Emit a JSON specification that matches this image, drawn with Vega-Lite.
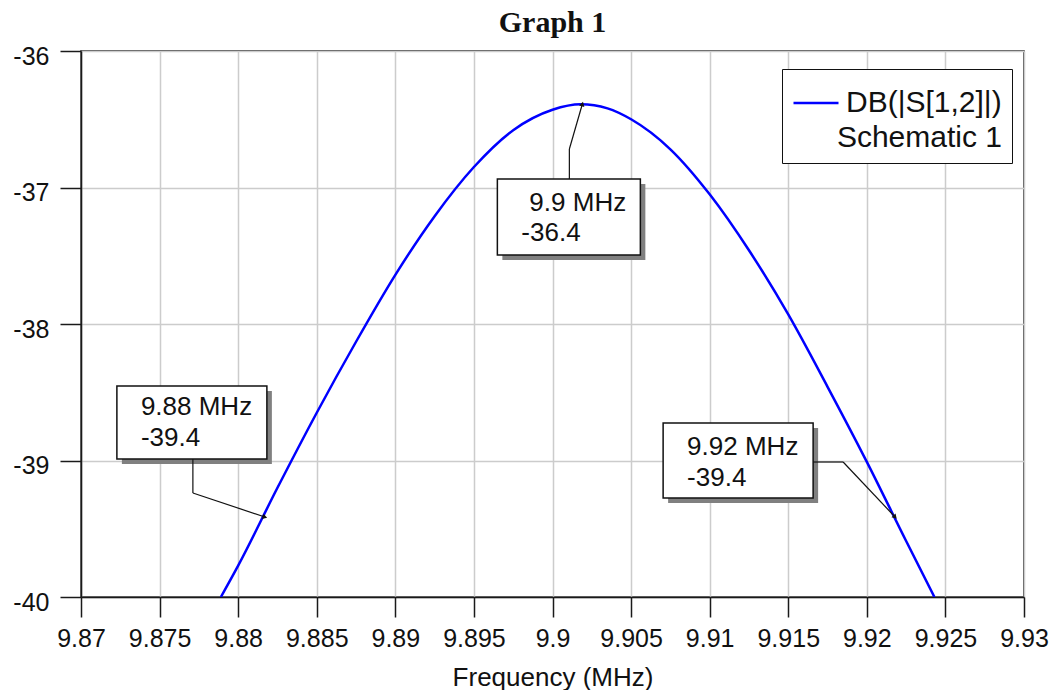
{
  "$schema": "https://vega.github.io/schema/vega-lite/v6.json",
  "width": 943,
  "height": 546,
  "autosize": {"type": "none"},
  "padding": {"left": 81, "top": 51, "right": 28, "bottom": 93},
  "background": "white",
  "title": {
    "text": "Graph 1",
    "font": "Liberation Serif",
    "fontSize": 30,
    "fontWeight": "bold",
    "color": "#111",
    "offset": 6
  },
  "datasets": {
    "curve": [
      {"freq": 9.8789, "db": -40.00},
      {"freq": 9.8800, "db": -39.77},
      {"freq": 9.8825, "db": -39.20},
      {"freq": 9.8850, "db": -38.65},
      {"freq": 9.8875, "db": -38.13},
      {"freq": 9.8900, "db": -37.64},
      {"freq": 9.8925, "db": -37.21},
      {"freq": 9.8950, "db": -36.85},
      {"freq": 9.8975, "db": -36.58},
      {"freq": 9.9000, "db": -36.43},
      {"freq": 9.9018, "db": -36.39},
      {"freq": 9.9035, "db": -36.42},
      {"freq": 9.9050, "db": -36.50},
      {"freq": 9.9075, "db": -36.72},
      {"freq": 9.9100, "db": -37.05},
      {"freq": 9.9125, "db": -37.46},
      {"freq": 9.9150, "db": -37.93},
      {"freq": 9.9175, "db": -38.46},
      {"freq": 9.9200, "db": -39.01},
      {"freq": 9.9225, "db": -39.59},
      {"freq": 9.9243, "db": -40.00}
    ],
    "markers": [
      {"id": "m1", "freq": 9.8817, "db": -39.414, "mhz": "9.88 MHz", "val": "-39.4"},
      {"id": "m2", "freq": 9.9019, "db": -36.388, "mhz": "9.9 MHz", "val": "-36.4"},
      {"id": "m3", "freq": 9.9218, "db": -39.414, "mhz": "9.92 MHz", "val": "-39.4"}
    ]
  },
  "config": {
    "font": "Liberation Sans",
    "view": {"stroke": "#1a1a1a", "strokeWidth": 1.5},
    "axis": {
      "labelFont": "Liberation Sans",
      "labelFontSize": 25,
      "labelColor": "#111",
      "tickColor": "#1a1a1a",
      "tickWidth": 1.5,
      "domainColor": "#1a1a1a",
      "domainWidth": 1.5,
      "gridColor": "#cccccc",
      "gridWidth": 1.5,
      "titleFont": "Liberation Sans",
      "titleFontWeight": "normal",
      "titleColor": "#111"
    },
    "text": {"font": "Liberation Sans", "fontSize": 26, "color": "#111", "align": "left", "baseline": "alphabetic"},
    "rule": {"color": "#111", "strokeWidth": 1.2}
  },
  "encoding": {
    "x": {
      "field": "freq",
      "type": "quantitative",
      "scale": {"domain": [9.87, 9.93], "nice": false, "zero": false},
      "axis": {
        "values": [9.87, 9.875, 9.88, 9.885, 9.89, 9.895, 9.9, 9.905, 9.91, 9.915, 9.92, 9.925, 9.93],
        "format": "~g",
        "labelFlush": false,
        "labelOverlap": false,
        "tickSize": 20,
        "labelPadding": 9,
        "title": "Frequency (MHz)",
        "titleFontSize": 26,
        "titlePadding": 13
      }
    },
    "y": {
      "field": "db",
      "type": "quantitative",
      "scale": {"domain": [-40, -36], "nice": false, "zero": false},
      "axis": {
        "values": [-40, -39, -38, -37, -36],
        "labelExpr": "datum.value + ''",
        "tickSize": 21,
        "labelPadding": 11,
        "labelOffset": 5,
        "title": null
      }
    }
  },
  "layer": [
    {
      "data": {"name": "curve"},
      "mark": {"type": "line", "strokeWidth": 2.5, "interpolate": "monotone", "clip": true},
      "encoding": {
        "color": {
          "datum": "DB(|S[1,2]|)",
          "scale": {"range": ["#0000ff"]},
          "legend": {
            "orient": "none",
            "legendX": 701,
            "legendY": 18,
            "title": "Schematic 1",
            "titleOrient": "bottom",
            "titleAnchor": "end",
            "titleFont": "Liberation Sans",
            "titleFontSize": 30,
            "titleFontWeight": "normal",
            "titleColor": "#111",
            "titlePadding": 5,
            "labelFont": "Liberation Sans",
            "labelFontSize": 30,
            "labelColor": "#111",
            "symbolType": "stroke",
            "symbolSize": 2025,
            "symbolStrokeWidth": 2.5,
            "labelOffset": 6,
            "padding": 10,
            "strokeColor": "#111",
            "fillColor": "white"
          }
        }
      }
    },
    {
      "data": {"name": "markers"},
      "transform": [{"filter": "datum.id === 'm1'"}],
      "layer": [
        {"mark": {"type": "rect", "fill": "#808080", "xOffset": -143, "x2Offset": 7, "yOffset": -126, "y2Offset": -53},
         "encoding": {"x2": {"field": "freq"}, "y2": {"field": "db"}}},
        {"mark": {"type": "rect", "fill": "white", "stroke": "#111", "strokeWidth": 1.5, "xOffset": -148, "x2Offset": 2, "yOffset": -131, "y2Offset": -58},
         "encoding": {"x2": {"field": "freq"}, "y2": {"field": "db"}}},
        {"mark": {"type": "text", "dx": -124, "dy": -102}, "encoding": {"text": {"field": "mhz"}}},
        {"mark": {"type": "text", "dx": -124, "dy": -71}, "encoding": {"text": {"field": "val"}}},
        {"mark": {"type": "rule", "xOffset": -72, "yOffset": -58, "x2Offset": -72, "y2Offset": -24},
         "encoding": {"x2": {"field": "freq"}, "y2": {"field": "db"}}},
        {"mark": {"type": "rule", "xOffset": -72, "yOffset": -24, "x2Offset": 0, "y2Offset": 0},
         "encoding": {"x2": {"field": "freq"}, "y2": {"field": "db"}}},
        {"mark": {"type": "point", "shape": "triangle-up", "filled": true, "color": "#111", "opacity": 1, "size": 30, "angle": 108}}
      ]
    },
    {
      "data": {"name": "markers"},
      "transform": [{"filter": "datum.id === 'm2'"}],
      "layer": [
        {"mark": {"type": "rect", "fill": "#808080", "xOffset": -80, "x2Offset": 63, "yOffset": 80, "y2Offset": 156},
         "encoding": {"x2": {"field": "freq"}, "y2": {"field": "db"}}},
        {"mark": {"type": "rect", "fill": "white", "stroke": "#111", "strokeWidth": 1.5, "xOffset": -85, "x2Offset": 58, "yOffset": 75, "y2Offset": 151},
         "encoding": {"x2": {"field": "freq"}, "y2": {"field": "db"}}},
        {"mark": {"type": "text", "dx": -53, "dy": 107}, "encoding": {"text": {"field": "mhz"}}},
        {"mark": {"type": "text", "dx": -61, "dy": 137}, "encoding": {"text": {"field": "val"}}},
        {"mark": {"type": "rule", "xOffset": -13, "yOffset": 75, "x2Offset": -13, "y2Offset": 45},
         "encoding": {"x2": {"field": "freq"}, "y2": {"field": "db"}}},
        {"mark": {"type": "rule", "xOffset": -13, "yOffset": 45, "x2Offset": 0, "y2Offset": 0},
         "encoding": {"x2": {"field": "freq"}, "y2": {"field": "db"}}},
        {"mark": {"type": "point", "shape": "triangle-up", "filled": true, "color": "#111", "opacity": 1, "size": 30, "angle": 16}}
      ]
    },
    {
      "data": {"name": "markers"},
      "transform": [{"filter": "datum.id === 'm3'"}],
      "layer": [
        {"mark": {"type": "rect", "fill": "#808080", "xOffset": -227, "x2Offset": -77, "yOffset": -89, "y2Offset": -14},
         "encoding": {"x2": {"field": "freq"}, "y2": {"field": "db"}}},
        {"mark": {"type": "rect", "fill": "white", "stroke": "#111", "strokeWidth": 1.5, "xOffset": -232, "x2Offset": -82, "yOffset": -94, "y2Offset": -19},
         "encoding": {"x2": {"field": "freq"}, "y2": {"field": "db"}}},
        {"mark": {"type": "text", "dx": -208, "dy": -62}, "encoding": {"text": {"field": "mhz"}}},
        {"mark": {"type": "text", "dx": -208, "dy": -31}, "encoding": {"text": {"field": "val"}}},
        {"mark": {"type": "rule", "xOffset": -82, "yOffset": -55, "x2Offset": -52, "y2Offset": -55},
         "encoding": {"x2": {"field": "freq"}, "y2": {"field": "db"}}},
        {"mark": {"type": "rule", "xOffset": -52, "yOffset": -55, "x2Offset": 0, "y2Offset": 0},
         "encoding": {"x2": {"field": "freq"}, "y2": {"field": "db"}}},
        {"mark": {"type": "point", "shape": "triangle-up", "filled": true, "color": "#111", "opacity": 1, "size": 30, "angle": 137}}
      ]
    }
  ]
}
